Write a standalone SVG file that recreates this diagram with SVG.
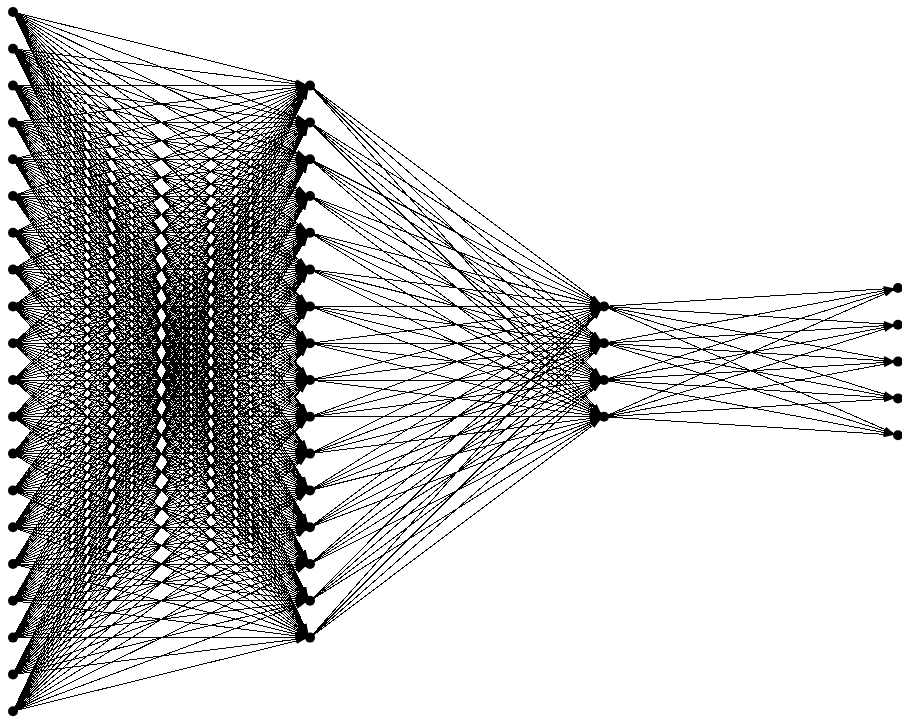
<svg xmlns="http://www.w3.org/2000/svg" width="902" height="722" viewBox="0 0 902 722">
<style>
#edges line{stroke:#000;stroke-width:1;fill:none;marker-end:url(#arr);shape-rendering:crispEdges}
.node circle{fill:#000;stroke:none}
</style>
<defs>
<marker id="arr" viewBox="0 0 10 6" refX="14.5" refY="3" markerWidth="10" markerHeight="6" markerUnits="userSpaceOnUse" orient="auto"><path d="M0,0 L10,3 L0,6 z" fill="#000"/></marker>
</defs>
<rect width="902" height="722" fill="#fff"/>
<g id="edges">
<line x1="13" y1="12" x2="310" y2="85.6"/><line x1="13" y1="12" x2="310" y2="122.4"/><line x1="13" y1="12" x2="310" y2="159.2"/><line x1="13" y1="12" x2="310" y2="196"/><line x1="13" y1="12" x2="310" y2="232.8"/><line x1="13" y1="12" x2="310" y2="269.6"/><line x1="13" y1="12" x2="310" y2="306.4"/><line x1="13" y1="12" x2="310" y2="343.2"/><line x1="13" y1="12" x2="310" y2="380"/><line x1="13" y1="12" x2="310" y2="416.8"/><line x1="13" y1="12" x2="310" y2="453.6"/><line x1="13" y1="12" x2="310" y2="490.4"/><line x1="13" y1="12" x2="310" y2="527.2"/><line x1="13" y1="12" x2="310" y2="564"/><line x1="13" y1="12" x2="310" y2="600.8"/><line x1="13" y1="12" x2="310" y2="637.6"/>
<line x1="13" y1="48.8" x2="310" y2="85.6"/><line x1="13" y1="48.8" x2="310" y2="122.4"/><line x1="13" y1="48.8" x2="310" y2="159.2"/><line x1="13" y1="48.8" x2="310" y2="196"/><line x1="13" y1="48.8" x2="310" y2="232.8"/><line x1="13" y1="48.8" x2="310" y2="269.6"/><line x1="13" y1="48.8" x2="310" y2="306.4"/><line x1="13" y1="48.8" x2="310" y2="343.2"/><line x1="13" y1="48.8" x2="310" y2="380"/><line x1="13" y1="48.8" x2="310" y2="416.8"/><line x1="13" y1="48.8" x2="310" y2="453.6"/><line x1="13" y1="48.8" x2="310" y2="490.4"/><line x1="13" y1="48.8" x2="310" y2="527.2"/><line x1="13" y1="48.8" x2="310" y2="564"/><line x1="13" y1="48.8" x2="310" y2="600.8"/><line x1="13" y1="48.8" x2="310" y2="637.6"/>
<line x1="13" y1="85.6" x2="310" y2="85.6"/><line x1="13" y1="85.6" x2="310" y2="122.4"/><line x1="13" y1="85.6" x2="310" y2="159.2"/><line x1="13" y1="85.6" x2="310" y2="196"/><line x1="13" y1="85.6" x2="310" y2="232.8"/><line x1="13" y1="85.6" x2="310" y2="269.6"/><line x1="13" y1="85.6" x2="310" y2="306.4"/><line x1="13" y1="85.6" x2="310" y2="343.2"/><line x1="13" y1="85.6" x2="310" y2="380"/><line x1="13" y1="85.6" x2="310" y2="416.8"/><line x1="13" y1="85.6" x2="310" y2="453.6"/><line x1="13" y1="85.6" x2="310" y2="490.4"/><line x1="13" y1="85.6" x2="310" y2="527.2"/><line x1="13" y1="85.6" x2="310" y2="564"/><line x1="13" y1="85.6" x2="310" y2="600.8"/><line x1="13" y1="85.6" x2="310" y2="637.6"/>
<line x1="13" y1="122.4" x2="310" y2="85.6"/><line x1="13" y1="122.4" x2="310" y2="122.4"/><line x1="13" y1="122.4" x2="310" y2="159.2"/><line x1="13" y1="122.4" x2="310" y2="196"/><line x1="13" y1="122.4" x2="310" y2="232.8"/><line x1="13" y1="122.4" x2="310" y2="269.6"/><line x1="13" y1="122.4" x2="310" y2="306.4"/><line x1="13" y1="122.4" x2="310" y2="343.2"/><line x1="13" y1="122.4" x2="310" y2="380"/><line x1="13" y1="122.4" x2="310" y2="416.8"/><line x1="13" y1="122.4" x2="310" y2="453.6"/><line x1="13" y1="122.4" x2="310" y2="490.4"/><line x1="13" y1="122.4" x2="310" y2="527.2"/><line x1="13" y1="122.4" x2="310" y2="564"/><line x1="13" y1="122.4" x2="310" y2="600.8"/><line x1="13" y1="122.4" x2="310" y2="637.6"/>
<line x1="13" y1="159.2" x2="310" y2="85.6"/><line x1="13" y1="159.2" x2="310" y2="122.4"/><line x1="13" y1="159.2" x2="310" y2="159.2"/><line x1="13" y1="159.2" x2="310" y2="196"/><line x1="13" y1="159.2" x2="310" y2="232.8"/><line x1="13" y1="159.2" x2="310" y2="269.6"/><line x1="13" y1="159.2" x2="310" y2="306.4"/><line x1="13" y1="159.2" x2="310" y2="343.2"/><line x1="13" y1="159.2" x2="310" y2="380"/><line x1="13" y1="159.2" x2="310" y2="416.8"/><line x1="13" y1="159.2" x2="310" y2="453.6"/><line x1="13" y1="159.2" x2="310" y2="490.4"/><line x1="13" y1="159.2" x2="310" y2="527.2"/><line x1="13" y1="159.2" x2="310" y2="564"/><line x1="13" y1="159.2" x2="310" y2="600.8"/><line x1="13" y1="159.2" x2="310" y2="637.6"/>
<line x1="13" y1="196" x2="310" y2="85.6"/><line x1="13" y1="196" x2="310" y2="122.4"/><line x1="13" y1="196" x2="310" y2="159.2"/><line x1="13" y1="196" x2="310" y2="196"/><line x1="13" y1="196" x2="310" y2="232.8"/><line x1="13" y1="196" x2="310" y2="269.6"/><line x1="13" y1="196" x2="310" y2="306.4"/><line x1="13" y1="196" x2="310" y2="343.2"/><line x1="13" y1="196" x2="310" y2="380"/><line x1="13" y1="196" x2="310" y2="416.8"/><line x1="13" y1="196" x2="310" y2="453.6"/><line x1="13" y1="196" x2="310" y2="490.4"/><line x1="13" y1="196" x2="310" y2="527.2"/><line x1="13" y1="196" x2="310" y2="564"/><line x1="13" y1="196" x2="310" y2="600.8"/><line x1="13" y1="196" x2="310" y2="637.6"/>
<line x1="13" y1="232.8" x2="310" y2="85.6"/><line x1="13" y1="232.8" x2="310" y2="122.4"/><line x1="13" y1="232.8" x2="310" y2="159.2"/><line x1="13" y1="232.8" x2="310" y2="196"/><line x1="13" y1="232.8" x2="310" y2="232.8"/><line x1="13" y1="232.8" x2="310" y2="269.6"/><line x1="13" y1="232.8" x2="310" y2="306.4"/><line x1="13" y1="232.8" x2="310" y2="343.2"/><line x1="13" y1="232.8" x2="310" y2="380"/><line x1="13" y1="232.8" x2="310" y2="416.8"/><line x1="13" y1="232.8" x2="310" y2="453.6"/><line x1="13" y1="232.8" x2="310" y2="490.4"/><line x1="13" y1="232.8" x2="310" y2="527.2"/><line x1="13" y1="232.8" x2="310" y2="564"/><line x1="13" y1="232.8" x2="310" y2="600.8"/><line x1="13" y1="232.8" x2="310" y2="637.6"/>
<line x1="13" y1="269.6" x2="310" y2="85.6"/><line x1="13" y1="269.6" x2="310" y2="122.4"/><line x1="13" y1="269.6" x2="310" y2="159.2"/><line x1="13" y1="269.6" x2="310" y2="196"/><line x1="13" y1="269.6" x2="310" y2="232.8"/><line x1="13" y1="269.6" x2="310" y2="269.6"/><line x1="13" y1="269.6" x2="310" y2="306.4"/><line x1="13" y1="269.6" x2="310" y2="343.2"/><line x1="13" y1="269.6" x2="310" y2="380"/><line x1="13" y1="269.6" x2="310" y2="416.8"/><line x1="13" y1="269.6" x2="310" y2="453.6"/><line x1="13" y1="269.6" x2="310" y2="490.4"/><line x1="13" y1="269.6" x2="310" y2="527.2"/><line x1="13" y1="269.6" x2="310" y2="564"/><line x1="13" y1="269.6" x2="310" y2="600.8"/><line x1="13" y1="269.6" x2="310" y2="637.6"/>
<line x1="13" y1="306.4" x2="310" y2="85.6"/><line x1="13" y1="306.4" x2="310" y2="122.4"/><line x1="13" y1="306.4" x2="310" y2="159.2"/><line x1="13" y1="306.4" x2="310" y2="196"/><line x1="13" y1="306.4" x2="310" y2="232.8"/><line x1="13" y1="306.4" x2="310" y2="269.6"/><line x1="13" y1="306.4" x2="310" y2="306.4"/><line x1="13" y1="306.4" x2="310" y2="343.2"/><line x1="13" y1="306.4" x2="310" y2="380"/><line x1="13" y1="306.4" x2="310" y2="416.8"/><line x1="13" y1="306.4" x2="310" y2="453.6"/><line x1="13" y1="306.4" x2="310" y2="490.4"/><line x1="13" y1="306.4" x2="310" y2="527.2"/><line x1="13" y1="306.4" x2="310" y2="564"/><line x1="13" y1="306.4" x2="310" y2="600.8"/><line x1="13" y1="306.4" x2="310" y2="637.6"/>
<line x1="13" y1="343.2" x2="310" y2="85.6"/><line x1="13" y1="343.2" x2="310" y2="122.4"/><line x1="13" y1="343.2" x2="310" y2="159.2"/><line x1="13" y1="343.2" x2="310" y2="196"/><line x1="13" y1="343.2" x2="310" y2="232.8"/><line x1="13" y1="343.2" x2="310" y2="269.6"/><line x1="13" y1="343.2" x2="310" y2="306.4"/><line x1="13" y1="343.2" x2="310" y2="343.2"/><line x1="13" y1="343.2" x2="310" y2="380"/><line x1="13" y1="343.2" x2="310" y2="416.8"/><line x1="13" y1="343.2" x2="310" y2="453.6"/><line x1="13" y1="343.2" x2="310" y2="490.4"/><line x1="13" y1="343.2" x2="310" y2="527.2"/><line x1="13" y1="343.2" x2="310" y2="564"/><line x1="13" y1="343.2" x2="310" y2="600.8"/><line x1="13" y1="343.2" x2="310" y2="637.6"/>
<line x1="13" y1="380" x2="310" y2="85.6"/><line x1="13" y1="380" x2="310" y2="122.4"/><line x1="13" y1="380" x2="310" y2="159.2"/><line x1="13" y1="380" x2="310" y2="196"/><line x1="13" y1="380" x2="310" y2="232.8"/><line x1="13" y1="380" x2="310" y2="269.6"/><line x1="13" y1="380" x2="310" y2="306.4"/><line x1="13" y1="380" x2="310" y2="343.2"/><line x1="13" y1="380" x2="310" y2="380"/><line x1="13" y1="380" x2="310" y2="416.8"/><line x1="13" y1="380" x2="310" y2="453.6"/><line x1="13" y1="380" x2="310" y2="490.4"/><line x1="13" y1="380" x2="310" y2="527.2"/><line x1="13" y1="380" x2="310" y2="564"/><line x1="13" y1="380" x2="310" y2="600.8"/><line x1="13" y1="380" x2="310" y2="637.6"/>
<line x1="13" y1="416.8" x2="310" y2="85.6"/><line x1="13" y1="416.8" x2="310" y2="122.4"/><line x1="13" y1="416.8" x2="310" y2="159.2"/><line x1="13" y1="416.8" x2="310" y2="196"/><line x1="13" y1="416.8" x2="310" y2="232.8"/><line x1="13" y1="416.8" x2="310" y2="269.6"/><line x1="13" y1="416.8" x2="310" y2="306.4"/><line x1="13" y1="416.8" x2="310" y2="343.2"/><line x1="13" y1="416.8" x2="310" y2="380"/><line x1="13" y1="416.8" x2="310" y2="416.8"/><line x1="13" y1="416.8" x2="310" y2="453.6"/><line x1="13" y1="416.8" x2="310" y2="490.4"/><line x1="13" y1="416.8" x2="310" y2="527.2"/><line x1="13" y1="416.8" x2="310" y2="564"/><line x1="13" y1="416.8" x2="310" y2="600.8"/><line x1="13" y1="416.8" x2="310" y2="637.6"/>
<line x1="13" y1="453.6" x2="310" y2="85.6"/><line x1="13" y1="453.6" x2="310" y2="122.4"/><line x1="13" y1="453.6" x2="310" y2="159.2"/><line x1="13" y1="453.6" x2="310" y2="196"/><line x1="13" y1="453.6" x2="310" y2="232.8"/><line x1="13" y1="453.6" x2="310" y2="269.6"/><line x1="13" y1="453.6" x2="310" y2="306.4"/><line x1="13" y1="453.6" x2="310" y2="343.2"/><line x1="13" y1="453.6" x2="310" y2="380"/><line x1="13" y1="453.6" x2="310" y2="416.8"/><line x1="13" y1="453.6" x2="310" y2="453.6"/><line x1="13" y1="453.6" x2="310" y2="490.4"/><line x1="13" y1="453.6" x2="310" y2="527.2"/><line x1="13" y1="453.6" x2="310" y2="564"/><line x1="13" y1="453.6" x2="310" y2="600.8"/><line x1="13" y1="453.6" x2="310" y2="637.6"/>
<line x1="13" y1="490.4" x2="310" y2="85.6"/><line x1="13" y1="490.4" x2="310" y2="122.4"/><line x1="13" y1="490.4" x2="310" y2="159.2"/><line x1="13" y1="490.4" x2="310" y2="196"/><line x1="13" y1="490.4" x2="310" y2="232.8"/><line x1="13" y1="490.4" x2="310" y2="269.6"/><line x1="13" y1="490.4" x2="310" y2="306.4"/><line x1="13" y1="490.4" x2="310" y2="343.2"/><line x1="13" y1="490.4" x2="310" y2="380"/><line x1="13" y1="490.4" x2="310" y2="416.8"/><line x1="13" y1="490.4" x2="310" y2="453.6"/><line x1="13" y1="490.4" x2="310" y2="490.4"/><line x1="13" y1="490.4" x2="310" y2="527.2"/><line x1="13" y1="490.4" x2="310" y2="564"/><line x1="13" y1="490.4" x2="310" y2="600.8"/><line x1="13" y1="490.4" x2="310" y2="637.6"/>
<line x1="13" y1="527.2" x2="310" y2="85.6"/><line x1="13" y1="527.2" x2="310" y2="122.4"/><line x1="13" y1="527.2" x2="310" y2="159.2"/><line x1="13" y1="527.2" x2="310" y2="196"/><line x1="13" y1="527.2" x2="310" y2="232.8"/><line x1="13" y1="527.2" x2="310" y2="269.6"/><line x1="13" y1="527.2" x2="310" y2="306.4"/><line x1="13" y1="527.2" x2="310" y2="343.2"/><line x1="13" y1="527.2" x2="310" y2="380"/><line x1="13" y1="527.2" x2="310" y2="416.8"/><line x1="13" y1="527.2" x2="310" y2="453.6"/><line x1="13" y1="527.2" x2="310" y2="490.4"/><line x1="13" y1="527.2" x2="310" y2="527.2"/><line x1="13" y1="527.2" x2="310" y2="564"/><line x1="13" y1="527.2" x2="310" y2="600.8"/><line x1="13" y1="527.2" x2="310" y2="637.6"/>
<line x1="13" y1="564" x2="310" y2="85.6"/><line x1="13" y1="564" x2="310" y2="122.4"/><line x1="13" y1="564" x2="310" y2="159.2"/><line x1="13" y1="564" x2="310" y2="196"/><line x1="13" y1="564" x2="310" y2="232.8"/><line x1="13" y1="564" x2="310" y2="269.6"/><line x1="13" y1="564" x2="310" y2="306.4"/><line x1="13" y1="564" x2="310" y2="343.2"/><line x1="13" y1="564" x2="310" y2="380"/><line x1="13" y1="564" x2="310" y2="416.8"/><line x1="13" y1="564" x2="310" y2="453.6"/><line x1="13" y1="564" x2="310" y2="490.4"/><line x1="13" y1="564" x2="310" y2="527.2"/><line x1="13" y1="564" x2="310" y2="564"/><line x1="13" y1="564" x2="310" y2="600.8"/><line x1="13" y1="564" x2="310" y2="637.6"/>
<line x1="13" y1="600.8" x2="310" y2="85.6"/><line x1="13" y1="600.8" x2="310" y2="122.4"/><line x1="13" y1="600.8" x2="310" y2="159.2"/><line x1="13" y1="600.8" x2="310" y2="196"/><line x1="13" y1="600.8" x2="310" y2="232.8"/><line x1="13" y1="600.8" x2="310" y2="269.6"/><line x1="13" y1="600.8" x2="310" y2="306.4"/><line x1="13" y1="600.8" x2="310" y2="343.2"/><line x1="13" y1="600.8" x2="310" y2="380"/><line x1="13" y1="600.8" x2="310" y2="416.8"/><line x1="13" y1="600.8" x2="310" y2="453.6"/><line x1="13" y1="600.8" x2="310" y2="490.4"/><line x1="13" y1="600.8" x2="310" y2="527.2"/><line x1="13" y1="600.8" x2="310" y2="564"/><line x1="13" y1="600.8" x2="310" y2="600.8"/><line x1="13" y1="600.8" x2="310" y2="637.6"/>
<line x1="13" y1="637.6" x2="310" y2="85.6"/><line x1="13" y1="637.6" x2="310" y2="122.4"/><line x1="13" y1="637.6" x2="310" y2="159.2"/><line x1="13" y1="637.6" x2="310" y2="196"/><line x1="13" y1="637.6" x2="310" y2="232.8"/><line x1="13" y1="637.6" x2="310" y2="269.6"/><line x1="13" y1="637.6" x2="310" y2="306.4"/><line x1="13" y1="637.6" x2="310" y2="343.2"/><line x1="13" y1="637.6" x2="310" y2="380"/><line x1="13" y1="637.6" x2="310" y2="416.8"/><line x1="13" y1="637.6" x2="310" y2="453.6"/><line x1="13" y1="637.6" x2="310" y2="490.4"/><line x1="13" y1="637.6" x2="310" y2="527.2"/><line x1="13" y1="637.6" x2="310" y2="564"/><line x1="13" y1="637.6" x2="310" y2="600.8"/><line x1="13" y1="637.6" x2="310" y2="637.6"/>
<line x1="13" y1="674.4" x2="310" y2="85.6"/><line x1="13" y1="674.4" x2="310" y2="122.4"/><line x1="13" y1="674.4" x2="310" y2="159.2"/><line x1="13" y1="674.4" x2="310" y2="196"/><line x1="13" y1="674.4" x2="310" y2="232.8"/><line x1="13" y1="674.4" x2="310" y2="269.6"/><line x1="13" y1="674.4" x2="310" y2="306.4"/><line x1="13" y1="674.4" x2="310" y2="343.2"/><line x1="13" y1="674.4" x2="310" y2="380"/><line x1="13" y1="674.4" x2="310" y2="416.8"/><line x1="13" y1="674.4" x2="310" y2="453.6"/><line x1="13" y1="674.4" x2="310" y2="490.4"/><line x1="13" y1="674.4" x2="310" y2="527.2"/><line x1="13" y1="674.4" x2="310" y2="564"/><line x1="13" y1="674.4" x2="310" y2="600.8"/><line x1="13" y1="674.4" x2="310" y2="637.6"/>
<line x1="13" y1="711.2" x2="310" y2="85.6"/><line x1="13" y1="711.2" x2="310" y2="122.4"/><line x1="13" y1="711.2" x2="310" y2="159.2"/><line x1="13" y1="711.2" x2="310" y2="196"/><line x1="13" y1="711.2" x2="310" y2="232.8"/><line x1="13" y1="711.2" x2="310" y2="269.6"/><line x1="13" y1="711.2" x2="310" y2="306.4"/><line x1="13" y1="711.2" x2="310" y2="343.2"/><line x1="13" y1="711.2" x2="310" y2="380"/><line x1="13" y1="711.2" x2="310" y2="416.8"/><line x1="13" y1="711.2" x2="310" y2="453.6"/><line x1="13" y1="711.2" x2="310" y2="490.4"/><line x1="13" y1="711.2" x2="310" y2="527.2"/><line x1="13" y1="711.2" x2="310" y2="564"/><line x1="13" y1="711.2" x2="310" y2="600.8"/><line x1="13" y1="711.2" x2="310" y2="637.6"/>
<line x1="310" y1="85.6" x2="604" y2="306.4"/><line x1="310" y1="85.6" x2="604" y2="343.2"/><line x1="310" y1="85.6" x2="604" y2="380"/><line x1="310" y1="85.6" x2="604" y2="416.8"/>
<line x1="310" y1="122.4" x2="604" y2="306.4"/><line x1="310" y1="122.4" x2="604" y2="343.2"/><line x1="310" y1="122.4" x2="604" y2="380"/><line x1="310" y1="122.4" x2="604" y2="416.8"/>
<line x1="310" y1="159.2" x2="604" y2="306.4"/><line x1="310" y1="159.2" x2="604" y2="343.2"/><line x1="310" y1="159.2" x2="604" y2="380"/><line x1="310" y1="159.2" x2="604" y2="416.8"/>
<line x1="310" y1="196" x2="604" y2="306.4"/><line x1="310" y1="196" x2="604" y2="343.2"/><line x1="310" y1="196" x2="604" y2="380"/><line x1="310" y1="196" x2="604" y2="416.8"/>
<line x1="310" y1="232.8" x2="604" y2="306.4"/><line x1="310" y1="232.8" x2="604" y2="343.2"/><line x1="310" y1="232.8" x2="604" y2="380"/><line x1="310" y1="232.8" x2="604" y2="416.8"/>
<line x1="310" y1="269.6" x2="604" y2="306.4"/><line x1="310" y1="269.6" x2="604" y2="343.2"/><line x1="310" y1="269.6" x2="604" y2="380"/><line x1="310" y1="269.6" x2="604" y2="416.8"/>
<line x1="310" y1="306.4" x2="604" y2="306.4"/><line x1="310" y1="306.4" x2="604" y2="343.2"/><line x1="310" y1="306.4" x2="604" y2="380"/><line x1="310" y1="306.4" x2="604" y2="416.8"/>
<line x1="310" y1="343.2" x2="604" y2="306.4"/><line x1="310" y1="343.2" x2="604" y2="343.2"/><line x1="310" y1="343.2" x2="604" y2="380"/><line x1="310" y1="343.2" x2="604" y2="416.8"/>
<line x1="310" y1="380" x2="604" y2="306.4"/><line x1="310" y1="380" x2="604" y2="343.2"/><line x1="310" y1="380" x2="604" y2="380"/><line x1="310" y1="380" x2="604" y2="416.8"/>
<line x1="310" y1="416.8" x2="604" y2="306.4"/><line x1="310" y1="416.8" x2="604" y2="343.2"/><line x1="310" y1="416.8" x2="604" y2="380"/><line x1="310" y1="416.8" x2="604" y2="416.8"/>
<line x1="310" y1="453.6" x2="604" y2="306.4"/><line x1="310" y1="453.6" x2="604" y2="343.2"/><line x1="310" y1="453.6" x2="604" y2="380"/><line x1="310" y1="453.6" x2="604" y2="416.8"/>
<line x1="310" y1="490.4" x2="604" y2="306.4"/><line x1="310" y1="490.4" x2="604" y2="343.2"/><line x1="310" y1="490.4" x2="604" y2="380"/><line x1="310" y1="490.4" x2="604" y2="416.8"/>
<line x1="310" y1="527.2" x2="604" y2="306.4"/><line x1="310" y1="527.2" x2="604" y2="343.2"/><line x1="310" y1="527.2" x2="604" y2="380"/><line x1="310" y1="527.2" x2="604" y2="416.8"/>
<line x1="310" y1="564" x2="604" y2="306.4"/><line x1="310" y1="564" x2="604" y2="343.2"/><line x1="310" y1="564" x2="604" y2="380"/><line x1="310" y1="564" x2="604" y2="416.8"/>
<line x1="310" y1="600.8" x2="604" y2="306.4"/><line x1="310" y1="600.8" x2="604" y2="343.2"/><line x1="310" y1="600.8" x2="604" y2="380"/><line x1="310" y1="600.8" x2="604" y2="416.8"/>
<line x1="310" y1="637.6" x2="604" y2="306.4"/><line x1="310" y1="637.6" x2="604" y2="343.2"/><line x1="310" y1="637.6" x2="604" y2="380"/><line x1="310" y1="637.6" x2="604" y2="416.8"/>
<line x1="604" y1="306.4" x2="898" y2="288"/><line x1="604" y1="306.4" x2="898" y2="324.8"/><line x1="604" y1="306.4" x2="898" y2="361.6"/><line x1="604" y1="306.4" x2="898" y2="398.4"/><line x1="604" y1="306.4" x2="898" y2="435.2"/>
<line x1="604" y1="343.2" x2="898" y2="288"/><line x1="604" y1="343.2" x2="898" y2="324.8"/><line x1="604" y1="343.2" x2="898" y2="361.6"/><line x1="604" y1="343.2" x2="898" y2="398.4"/><line x1="604" y1="343.2" x2="898" y2="435.2"/>
<line x1="604" y1="380" x2="898" y2="288"/><line x1="604" y1="380" x2="898" y2="324.8"/><line x1="604" y1="380" x2="898" y2="361.6"/><line x1="604" y1="380" x2="898" y2="398.4"/><line x1="604" y1="380" x2="898" y2="435.2"/>
<line x1="604" y1="416.8" x2="898" y2="288"/><line x1="604" y1="416.8" x2="898" y2="324.8"/><line x1="604" y1="416.8" x2="898" y2="361.6"/><line x1="604" y1="416.8" x2="898" y2="398.4"/><line x1="604" y1="416.8" x2="898" y2="435.2"/>
</g>
<g id="nodes">
<g id="in0" class="node"><circle cx="13" cy="12" r="5"/></g>
<g id="in1" class="node"><circle cx="13" cy="48.8" r="5"/></g>
<g id="in2" class="node"><circle cx="13" cy="85.6" r="5"/></g>
<g id="in3" class="node"><circle cx="13" cy="122.4" r="5"/></g>
<g id="in4" class="node"><circle cx="13" cy="159.2" r="5"/></g>
<g id="in5" class="node"><circle cx="13" cy="196" r="5"/></g>
<g id="in6" class="node"><circle cx="13" cy="232.8" r="5"/></g>
<g id="in7" class="node"><circle cx="13" cy="269.6" r="5"/></g>
<g id="in8" class="node"><circle cx="13" cy="306.4" r="5"/></g>
<g id="in9" class="node"><circle cx="13" cy="343.2" r="5"/></g>
<g id="in10" class="node"><circle cx="13" cy="380" r="5"/></g>
<g id="in11" class="node"><circle cx="13" cy="416.8" r="5"/></g>
<g id="in12" class="node"><circle cx="13" cy="453.6" r="5"/></g>
<g id="in13" class="node"><circle cx="13" cy="490.4" r="5"/></g>
<g id="in14" class="node"><circle cx="13" cy="527.2" r="5"/></g>
<g id="in15" class="node"><circle cx="13" cy="564" r="5"/></g>
<g id="in16" class="node"><circle cx="13" cy="600.8" r="5"/></g>
<g id="in17" class="node"><circle cx="13" cy="637.6" r="5"/></g>
<g id="in18" class="node"><circle cx="13" cy="674.4" r="5"/></g>
<g id="in19" class="node"><circle cx="13" cy="711.2" r="5"/></g>
<g id="h1_0" class="node"><circle cx="310" cy="85.6" r="5"/></g>
<g id="h1_1" class="node"><circle cx="310" cy="122.4" r="5"/></g>
<g id="h1_2" class="node"><circle cx="310" cy="159.2" r="5"/></g>
<g id="h1_3" class="node"><circle cx="310" cy="196" r="5"/></g>
<g id="h1_4" class="node"><circle cx="310" cy="232.8" r="5"/></g>
<g id="h1_5" class="node"><circle cx="310" cy="269.6" r="5"/></g>
<g id="h1_6" class="node"><circle cx="310" cy="306.4" r="5"/></g>
<g id="h1_7" class="node"><circle cx="310" cy="343.2" r="5"/></g>
<g id="h1_8" class="node"><circle cx="310" cy="380" r="5"/></g>
<g id="h1_9" class="node"><circle cx="310" cy="416.8" r="5"/></g>
<g id="h1_10" class="node"><circle cx="310" cy="453.6" r="5"/></g>
<g id="h1_11" class="node"><circle cx="310" cy="490.4" r="5"/></g>
<g id="h1_12" class="node"><circle cx="310" cy="527.2" r="5"/></g>
<g id="h1_13" class="node"><circle cx="310" cy="564" r="5"/></g>
<g id="h1_14" class="node"><circle cx="310" cy="600.8" r="5"/></g>
<g id="h1_15" class="node"><circle cx="310" cy="637.6" r="5"/></g>
<g id="h2_0" class="node"><circle cx="604" cy="306.4" r="5"/></g>
<g id="h2_1" class="node"><circle cx="604" cy="343.2" r="5"/></g>
<g id="h2_2" class="node"><circle cx="604" cy="380" r="5"/></g>
<g id="h2_3" class="node"><circle cx="604" cy="416.8" r="5"/></g>
<g id="out0" class="node"><circle cx="898" cy="288" r="5"/></g>
<g id="out1" class="node"><circle cx="898" cy="324.8" r="5"/></g>
<g id="out2" class="node"><circle cx="898" cy="361.6" r="5"/></g>
<g id="out3" class="node"><circle cx="898" cy="398.4" r="5"/></g>
<g id="out4" class="node"><circle cx="898" cy="435.2" r="5"/></g>
</g>
</svg>
